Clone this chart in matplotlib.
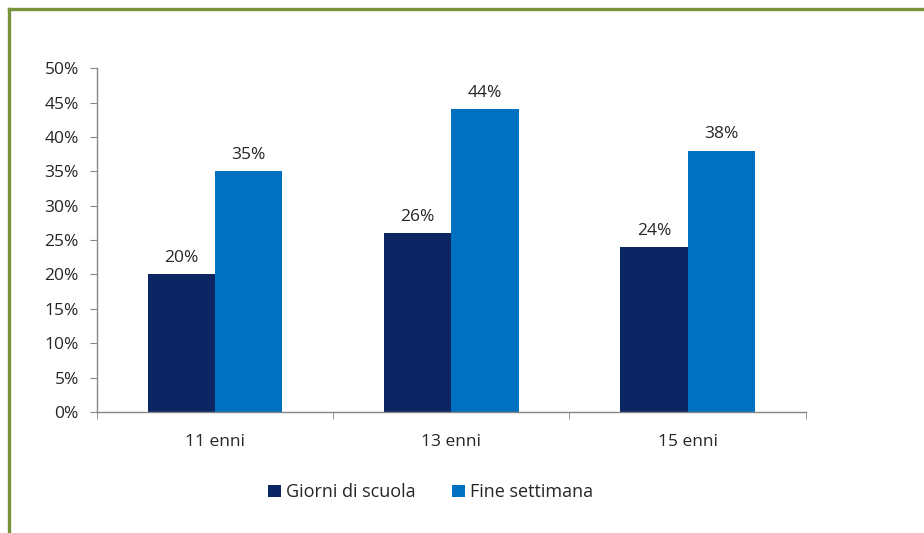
import matplotlib

matplotlib.use("Agg")

import numpy as np
from matplotlib import pyplot as plt
from matplotlib.lines import Line2D
from matplotlib.ticker import MultipleLocator, PercentFormatter

categories = ["11 enni", "13 enni", "15 enni"]
series_names = ["Giorni di scuola", "Fine settimana"]
giorni_scuola = [20, 26, 24]
fine_settimana = [35, 44, 38]

DARK = "#0B2663"
LIGHT = "#0070C0"
GREEN = "#77933C"
TEXT = "#262626"

plt.rcParams.update(
    {
        "font.family": ["Open Sans", "DejaVu Sans"],
        "font.size": 12.5,
        "xtick.labelsize": 12.5,
        "ytick.labelsize": 12.5,
    }
)

fig = plt.figure(figsize=(9.24, 5.33), dpi=100)
ax = fig.add_axes([0.105, 0.227, 0.767, 0.645])

x = np.arange(len(categories))
width = 0.285
bars_a = ax.bar(x - width / 2, giorni_scuola, width, color=DARK, label=series_names[0])
bars_b = ax.bar(x + width / 2, fine_settimana, width, color=LIGHT, label=series_names[1])

for bars in (bars_a, bars_b):
    for bar in bars:
        h = bar.get_height()
        ax.annotate(
            f"{h:.0f}%",
            (bar.get_x() + bar.get_width() / 2, h),
            xytext=(0, 6),
            textcoords="offset points",
            ha="center",
            va="bottom",
            color=TEXT,
        )

ax.set_xlim(-0.5, 2.5)
ax.set_ylim(0, 50)
ax.yaxis.set_major_locator(MultipleLocator(5))
ax.yaxis.set_major_formatter(PercentFormatter(decimals=0))

ax.set_xticks(x)
ax.set_xticklabels(categories)
ax.set_xticks(np.arange(-0.5, 3.0, 1.0), minor=True)
ax.tick_params(axis="x", which="major", length=0, pad=16, colors=TEXT)
ax.tick_params(axis="x", which="minor", length=5, color="#868686")
ax.tick_params(axis="y", length=5, color="#868686", colors=TEXT, pad=8)

for side in ("top", "right"):
    ax.spines[side].set_visible(False)
for side in ("left", "bottom"):
    ax.spines[side].set_color("#868686")
    ax.spines[side].set_linewidth(1.0)

fig.legend(
    handles=[bars_a, bars_b],
    labels=series_names,
    loc="center",
    bbox_to_anchor=(0.466, 0.076),
    ncol=2,
    frameon=False,
    handlelength=0.7,
    handleheight=0.7,
    handletextpad=0.3,
    columnspacing=2.0,
    fontsize=13,
    labelcolor=TEXT,
)

# green frame along top and left edge
fig.add_artist(Line2D([0.0095, 1.0], [0.984, 0.984], color=GREEN, linewidth=2.4, transform=fig.transFigure))
fig.add_artist(Line2D([0.0095, 0.0095], [0.0, 0.984], color=GREEN, linewidth=2.4, transform=fig.transFigure))

fig.savefig("out.png", dpi=100)
